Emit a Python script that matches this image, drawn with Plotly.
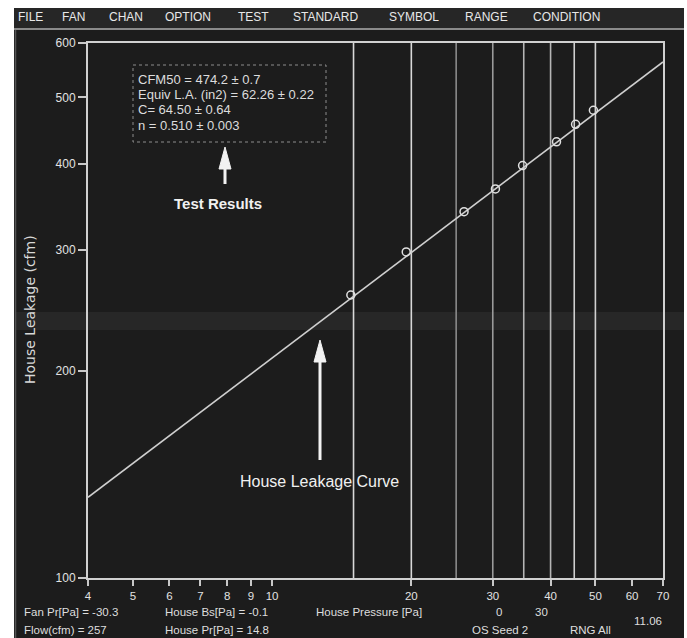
import plotly.graph_objects as go

# ---------------- data ----------------
station_pressure = [15, 20, 25, 30, 35, 40, 45, 50]          # vertical pressure station lines (Pa)
test_pressure = [14.8, 19.5, 26.0, 30.4, 34.8, 41.2, 45.3, 49.5]  # measured points (Pa)
test_flow = [258, 298, 341, 368, 398, 431, 457, 479]          # measured flow (cfm)
curve_pressure = [4, 70]                                      # fitted leakage curve ends (Pa)
curve_flow = [131, 563]                                       # fitted leakage curve ends (cfm)

x_ticks = [4, 5, 6, 7, 8, 9, 10, 20, 30, 40, 50, 60, 70]
y_ticks = [100, 200, 300, 400, 500, 600]

menu_items = ["FILE", "FAN", "CHAN", "OPTION", "TEST", "STANDARD", "SYMBOL", "RANGE", "CONDITION"]
result_lines = ["CFM50 = 474.2 ± 0.7",
                "Equiv L.A. (in2) = 62.26 ± 0.22",
                "C= 64.50 ± 0.64",
                "n = 0.510 ± 0.003"]

# ---------------- geometry helpers (pixel -> paper) ----------------
W, H = 687, 638
L, R, T, B = 88, 24, 43, 60
PW, PH = W - L - R, H - T - B


def px(x):
    return (x - L) / PW


def py(y):
    return (H - B - y) / PH


FONT = "Liberation Sans, Arial, sans-serif"
TXT = "#e2e2e2"
BG = "#1c1c1c"

fig = go.Figure()

# station lines
line_colors = ["#d8d8d8", "#d8d8d8", "#8a8a8a", "#9a9a9a", "#b5b5b5", "#b5b5b5", "#cfcfcf", "#d0d0d0"]
for p, c in zip(station_pressure, line_colors):
    fig.add_trace(go.Scatter(x=[p, p], y=[100, 600], mode="lines",
                             line=dict(color=c, width=1.6), hoverinfo="skip", showlegend=False))

# leakage curve
fig.add_trace(go.Scatter(x=curve_pressure, y=curve_flow, mode="lines",
                         line=dict(color="#cfcfcf", width=1.6), showlegend=False))

# measured points
fig.add_trace(go.Scatter(x=test_pressure, y=test_flow, mode="markers",
                         marker=dict(symbol="circle-open", size=8, color="#e0e0e0",
                                     line=dict(width=1.5, color="#e0e0e0")),
                         showlegend=False))

shapes = []
# faint scan glare band
shapes.append(dict(type="rect", xref="paper", yref="paper", x0=px(16), x1=px(684), y0=py(312), y1=py(330),
                   fillcolor="rgba(255,255,255,0.05)", line=dict(width=0), layer="below"))
# white outer margins
shapes.append(dict(type="rect", xref="paper", yref="paper", x0=px(-5), x1=px(14), y0=py(-5), y1=py(645),
                   fillcolor="white", line=dict(width=0), layer="above"))
shapes.append(dict(type="rect", xref="paper", yref="paper", x0=px(-5), x1=px(692), y0=py(-5), y1=py(8),
                   fillcolor="white", line=dict(width=0), layer="above"))
shapes.append(dict(type="rect", xref="paper", yref="paper", x0=px(684), x1=px(692), y0=py(-5), y1=py(645),
                   fillcolor="white", line=dict(width=0), layer="above"))
# menu bar
shapes.append(dict(type="rect", xref="paper", yref="paper", x0=px(14), x1=px(684), y0=py(8), y1=py(28),
                   fillcolor="#262626", line=dict(width=0), layer="above"))
shapes.append(dict(type="line", xref="paper", yref="paper", x0=px(14), x1=px(684), y0=py(29), y1=py(29),
                   line=dict(color="#8a8a8a", width=2), layer="above"))
# outer dark frame edge
shapes.append(dict(type="line", xref="paper", yref="paper", x0=px(15.5), x1=px(15.5), y0=py(30), y1=py(638),
                   line=dict(color="#555555", width=1.5), layer="above"))
# results box
shapes.append(dict(type="rect", xref="paper", yref="paper", x0=px(133), x1=px(326), y0=py(65), y1=py(142),
                   line=dict(color="#8c8c8c", width=1, dash="dot"), layer="above"))
# arrows (shaft + head)
for ax_, top, bottom in [(225, 147, 184), (320, 340, 460)]:
    shapes.append(dict(type="line", xref="paper", yref="paper", x0=px(ax_), x1=px(ax_),
                       y0=py(bottom), y1=py(top + 15), line=dict(color="#f2f2f2", width=3), layer="above"))
    shapes.append(dict(type="path", xref="paper", yref="paper",
                       path=f"M {px(ax_)} {py(top)} L {px(ax_ - 6)} {py(top + 22)} L {px(ax_ + 6)} {py(top + 22)} Z",
                       fillcolor="#f2f2f2", line=dict(color="#f2f2f2", width=1), layer="above"))

annotations = []
menu_x = [16, 60, 107, 163, 236, 291, 387, 463, 531]
for name, x in zip(menu_items, menu_x):
    annotations.append(dict(text=name, x=px(x), y=py(17), xref="paper", yref="paper", showarrow=False,
                            xanchor="left", yanchor="middle", font=dict(family=FONT, size=12, color="#e8e8e8")))
for i, line in enumerate(result_lines):
    annotations.append(dict(text=line, x=px(136), y=py(79 + 15.5 * i), xref="paper", yref="paper",
                            showarrow=False, xanchor="left", yanchor="middle",
                            font=dict(family=FONT, size=13, color="#dcdcdc")))
annotations.append(dict(text="<b>Test Results</b>", x=px(218), y=py(204), xref="paper", yref="paper",
                        showarrow=False, xanchor="center", yanchor="middle",
                        font=dict(family=FONT, size=15, color="#f0f0f0")))
annotations.append(dict(text="House Leakage Curve", x=px(319), y=py(481), xref="paper", yref="paper",
                        showarrow=False, xanchor="center", yanchor="middle",
                        font=dict(family=FONT, size=16, color="#f0f0f0")))
annotations.append(dict(text="House Leakage (cfm)", x=px(30), y=py(310), xref="paper", yref="paper",
                        showarrow=False, textangle=-90, xanchor="center", yanchor="middle",
                        font=dict(family="DejaVu Sans, sans-serif", size=14, color="#d8d8d8")))

bottom_texts = [("Fan Pr[Pa] = -30.3", 22, 612), ("House Bs[Pa] = -0.1", 163, 612),
                ("House Pressure [Pa]", 314, 612), ("0", 494, 612), ("30", 533, 612),
                ("Flow(cfm) = 257", 22, 630), ("House Pr[Pa] = 14.8", 163, 630),
                ("OS Seed 2", 470, 630), ("RNG All", 568, 630), ("11.06", 632, 621)]
for t, x, y in bottom_texts:
    annotations.append(dict(text=t, x=px(x), y=py(y), xref="paper", yref="paper", showarrow=False,
                            xanchor="left", yanchor="middle", font=dict(family=FONT, size=11.5, color="#dedede")))

fig.update_layout(
    width=W, height=H, margin=dict(l=L, r=R, t=T, b=B, pad=0),
    paper_bgcolor=BG, plot_bgcolor="rgba(0,0,0,0)",
    shapes=shapes, annotations=annotations, showlegend=False,
    xaxis=dict(type="log", range=[0.60206, 1.845098], tickvals=x_ticks, ticktext=[str(v) for v in x_ticks],
               showgrid=False, zeroline=False, showline=True, mirror=True, linecolor="#d0d0d0", linewidth=2,
               ticks="outside", ticklen=6, tickwidth=1.5, tickcolor="#c8c8c8",
               tickfont=dict(family=FONT, size=11.5, color=TXT)),
    yaxis=dict(type="log", range=[2, 2.778151], tickvals=y_ticks, ticktext=[str(v) for v in y_ticks],
               showgrid=False, zeroline=False, showline=True, mirror=True, linecolor="#d0d0d0", linewidth=2,
               ticks="outside", ticklen=8, tickwidth=1.5, tickcolor="#c8c8c8",
               tickfont=dict(family=FONT, size=12, color=TXT)),
)

fig.write_html("out.html")
